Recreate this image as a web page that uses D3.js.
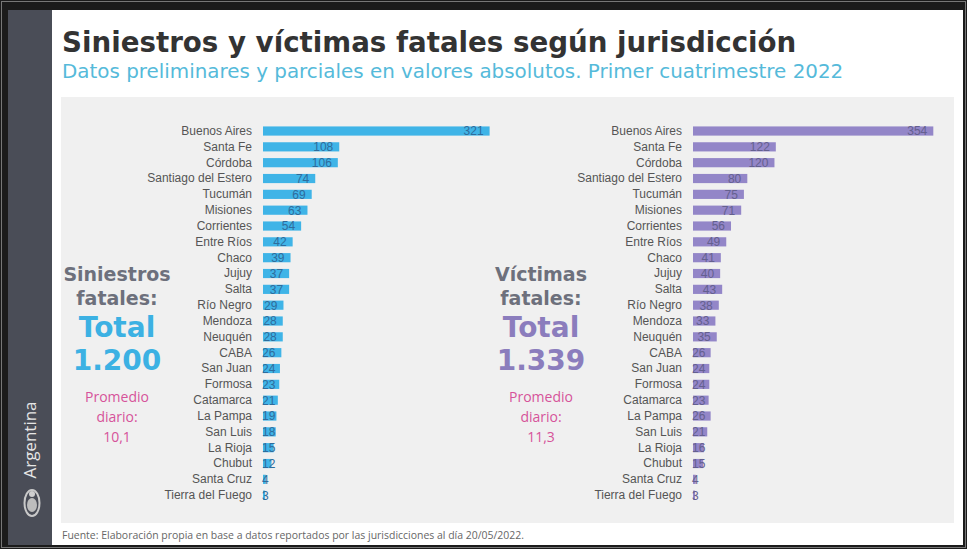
<!DOCTYPE html>
<html lang="es">
<head>
  <meta charset="UTF-8" />
  <title>Siniestros y víctimas fatales según jurisdicción</title>
  <script src="https://d3js.org/d3.v7.min.js"></script>
  <style>
    body {
      margin: 0;
      background: #1b1b1b;
    }
    svg {
      display: block;
    }
    .axis text {
      font-family: "Liberation Sans", Arial, sans-serif;
      font-size: 12px;
      fill: #555;
    }
    .val {
      font-family: "Liberation Sans", Arial, sans-serif;
      font-size: 12px;
    }
  </style>
</head>
<body>
  <svg width="967" height="549"></svg>

  <script>
    const jurisdicciones = ["Buenos Aires", "Santa Fe", "Córdoba", "Santiago del Estero", "Tucumán",
      "Misiones", "Corrientes", "Entre Ríos", "Chaco", "Jujuy", "Salta", "Río Negro", "Mendoza",
      "Neuquén", "CABA", "San Juan", "Formosa", "Catamarca", "La Pampa", "San Luis", "La Rioja",
      "Chubut", "Santa Cruz", "Tierra del Fuego"];
    const siniestros = [321, 108, 106, 74, 69, 63, 54, 42, 39, 37, 37, 29, 28, 28, 26, 24, 23, 21, 19, 18, 15, 12, 4, 3];
    const victimas = [354, 122, 120, 80, 75, 71, 56, 49, 41, 40, 43, 38, 33, 35, 26, 24, 24, 23, 26, 21, 16, 15, 4, 3];

    const titulos = ["Siniestros", "Víctimas"];
    const totales = ["1.200", "1.339"];
    const promedios = ["10,1", "11,3"];

    const svg = d3.select("svg");

    // frame
    svg.append("rect").attr("x", 1.5).attr("y", 1.5).attr("width", 964).attr("height", 546)
      .attr("fill", "none").attr("stroke", "#777").attr("stroke-width", 1);
    svg.append("rect").attr("x", 52).attr("y", 10).attr("width", 911).attr("height", 535).attr("fill", "#fff");
    svg.append("rect").attr("x", 8).attr("y", 10).attr("width", 44).attr("height", 535).attr("fill", "#4a4d57");
    svg.append("rect").attr("x", 61).attr("y", 97).attr("width", 893).attr("height", 426).attr("fill", "#f0f0f0");

    // sidebar
    svg.append("text")
      .attr("transform", "translate(36,440) rotate(-90)")
      .attr("text-anchor", "middle")
      .style("font-family", "'Open Sans', sans-serif")
      .style("font-size", "17px")
      .attr("fill", "#e6e6e6")
      .text("Argentina");
    const escudo = svg.append("g").attr("transform", "translate(32,503)");
    escudo.append("ellipse").attr("rx", 7.5).attr("ry", 13).attr("fill", "none").attr("stroke", "#c9c9c9").attr("stroke-width", 2);
    escudo.append("ellipse").attr("cy", 2).attr("rx", 5).attr("ry", 7).attr("fill", "#bdbdbd");
    escudo.append("circle").attr("cy", -9).attr("r", 3).attr("fill", "#cfcfcf");

    // titles
    svg.append("text").attr("x", 62).attr("y", 52)
      .style("font-family", "'DejaVu Sans', sans-serif").style("font-weight", "bold").style("font-size", "27.7px")
      .attr("fill", "#333")
      .text("Siniestros y víctimas fatales según jurisdicción");
    svg.append("text").attr("x", 62).attr("y", 78)
      .style("font-family", "'DejaVu Sans', sans-serif").style("font-size", "19.9px")
      .attr("fill", "#55bada")
      .text("Datos preliminares y parciales en valores absolutos. Primer cuatrimestre 2022");

    svg.append("text").attr("x", 62).attr("y", 539)
      .style("font-family", "'Open Sans', sans-serif").style("font-size", "10.5px")
      .attr("fill", "#666")
      .attr("textLength", 462).attr("lengthAdjust", "spacingAndGlyphs")
      .text("Fuente: Elaboración propia en base a datos reportados por las jurisdicciones al día 20/05/2022.");

    const y = d3.scaleBand().domain(jurisdicciones).range([123.1, 503.1]).paddingInner(0.42).paddingOuter(0.21);

    const panels = [
      { values: siniestros, x0: 263, x1: 489.6, max: 321, bar: "#3fb4e7", label: "#2f6c9c", big: "#3cb1e3", cx: 117, i: 0 },
      { values: victimas, x0: 693, x1: 933.3, max: 354, bar: "#9386c8", label: "#64608f", big: "#8b7dbd", cx: 541, i: 1 }
    ];

    panels.forEach(p => {
      const x = d3.scaleLinear().domain([0, p.max]).range([p.x0, p.x1]);
      const rows = jurisdicciones.map((name, k) => ({ name, value: p.values[k] }));

      svg.append("g")
        .attr("class", "axis")
        .attr("transform", `translate(${p.x0},0)`)
        .call(d3.axisLeft(y).tickSize(0).tickPadding(11))
        .call(g => g.select(".domain").remove());

      svg.append("g").selectAll("rect")
        .data(rows)
        .join("rect")
        .attr("x", x(0))
        .attr("y", d => y(d.name))
        .attr("width", d => x(d.value) - x(0))
        .attr("height", y.bandwidth())
        .attr("fill", p.bar);

      svg.append("g").selectAll("text")
        .data(rows)
        .join("text")
        .attr("class", "val")
        .attr("y", d => y(d.name) + y.bandwidth() / 2)
        .attr("dy", "0.36em")
        .attr("text-anchor", "end")
        .attr("fill", p.label)
        .text(d => d.value)
        .each(function (d) {
          const w = this.getComputedTextLength();
          let xe = x(d.value) - 6;
          if (xe - w < x(0) - 1) xe = x(0) - 1 + w;
          d3.select(this).attr("x", xe);
        });

      // side summary
      const s = svg.append("g").attr("text-anchor", "middle");
      s.append("text").attr("x", p.cx).attr("y", 281)
        .style("font-family", "'DejaVu Sans', sans-serif").style("font-weight", "bold").style("font-size", "19px")
        .attr("fill", "#6d707c").text(titulos[p.i]);
      s.append("text").attr("x", p.cx).attr("y", 305)
        .style("font-family", "'DejaVu Sans', sans-serif").style("font-weight", "bold").style("font-size", "19px")
        .attr("fill", "#6d707c").text("fatales:");
      s.append("text").attr("x", p.cx).attr("y", 337)
        .style("font-family", "'DejaVu Sans', sans-serif").style("font-weight", "bold").style("font-size", "28px")
        .attr("fill", p.big).text("Total");
      s.append("text").attr("x", p.cx).attr("y", 370)
        .style("font-family", "'DejaVu Sans', sans-serif").style("font-weight", "bold").style("font-size", "28px")
        .attr("fill", p.big).text(totales[p.i]);
      ["Promedio", "diario:", promedios[p.i]].forEach((t, k) => {
        s.append("text").attr("x", p.cx).attr("y", 402 + k * 20)
          .style("font-family", "'Open Sans', sans-serif").style("font-size", "14px")
          .attr("fill", "#d6539a").text(t);
      });
    });
  </script>
</body>
</html>
